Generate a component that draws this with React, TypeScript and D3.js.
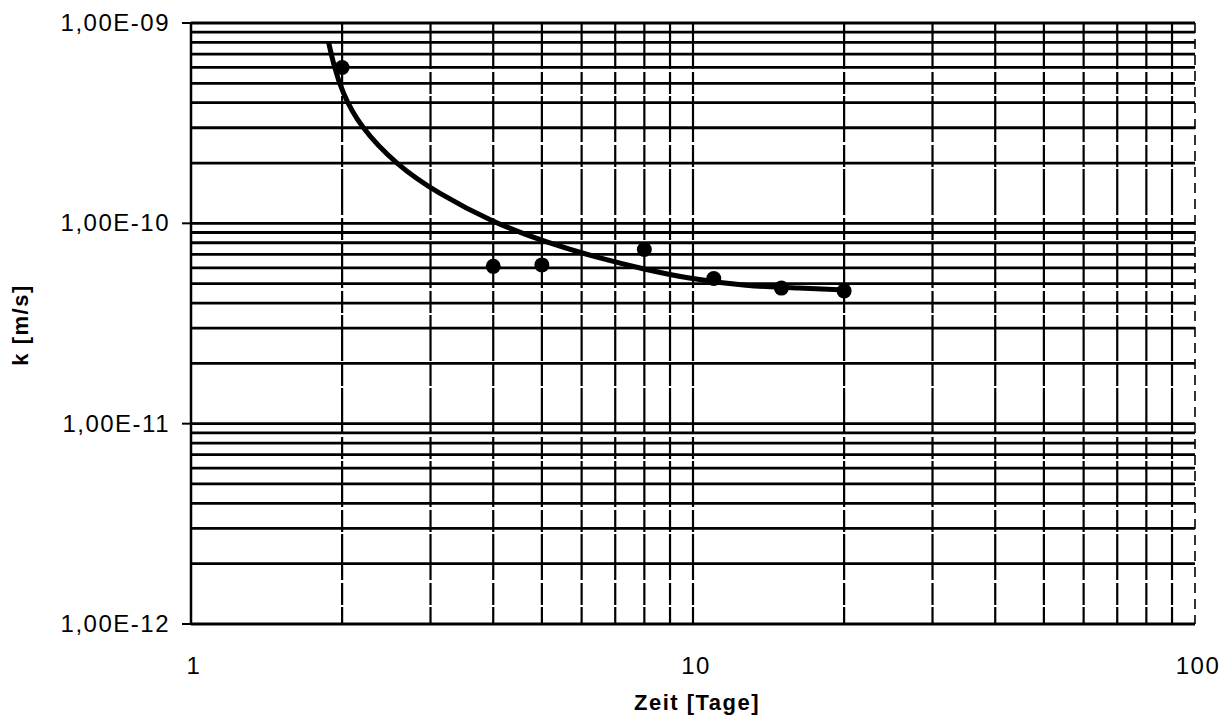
import React from "react";
import * as d3 from "d3";

// Measured data points (Zeit [Tage], k [m/s])
const pointDays = [2, 4, 5, 8, 11, 15, 20];
const pointK = [6.0e-10, 6.1e-11, 6.2e-11, 7.4e-11, 5.3e-11, 4.75e-11, 4.6e-11];

// Fitted curve
const curveDays = [1.88, 1.92, 2.0, 2.17, 2.57, 3.09, 4.0, 5.12, 6.5, 8.0, 9.8, 12.8, 16.3, 20.3];
const curveK = [8.0e-10, 6.3e-10, 4.5e-10, 3.04e-10, 1.95e-10, 1.42e-10, 1.01e-10, 8.0e-11, 6.7e-11, 5.9e-11, 5.3e-11, 4.86e-11, 4.75e-11, 4.64e-11];

const xTickValues = [1, 10, 100];
const xTickLabels = ["1", "10", "100"];
const yTickValues = [1e-9, 1e-10, 1e-11, 1e-12];
const yTickLabels = ["1,00E-09", "1,00E-10", "1,00E-11", "1,00E-12"];

const xTitle = "Zeit [Tage]";
const yTitle = "k [m/s]";

const W = 1230;
const H = 725;
const L = 191;
const R = 1195;
const T = 23;
const B = 624;

export default function App() {
  const x = d3.scaleLog().domain([1, 100]).range([L, R]);
  const y = d3.scaleLog().domain([1e-12, 1e-9]).range([B, T]);

  const xGrid: number[] = [];
  for (let d = 1; d <= 10; d *= 10) for (let m = 1; m <= 9; m++) xGrid.push(m * d);
  xGrid.push(100);
  const yGrid: number[] = [];
  for (let e = -12; e < -9; e++) for (let m = 1; m <= 9; m++) yGrid.push(m * Math.pow(10, e));
  yGrid.push(1e-9);

  const line = d3
    .line<number>()
    .x((_, i) => x(curveDays[i]))
    .y((_, i) => y(curveK[i]))
    .curve(d3.curveBasis);

  const font = "'Liberation Sans', Arial, Helvetica, sans-serif";

  return (
    <svg
      width={W}
      height={H}
      style={{ position: "absolute", left: 0, top: 0, background: "#fff" }}
    >
      <rect x={0} y={0} width={W} height={H} fill="#fff" />
      {/* vertical grid lines */}
      {xGrid.map((v, i) => (
        <line
          key={"vx" + i}
          x1={x(v)}
          x2={x(v)}
          y1={T}
          y2={B}
          stroke="#000"
          strokeWidth={v === 1 ? 2.5 : v === 100 ? 1.6 : 2.2}
          strokeDasharray={v === 1 ? undefined : v === 100 ? "10 6" : "46 3 22 2"}
        />
      ))}
      {/* horizontal grid lines */}
      {yGrid.map((v, i) => (
        <line
          key={"hy" + i}
          x1={L}
          x2={R}
          y1={y(v)}
          y2={y(v)}
          stroke="#000"
          strokeWidth={2.8}
        />
      ))}
      {/* y major ticks */}
      {yTickValues.map((v, i) => (
        <line key={"yt" + i} x1={L - 9} x2={L} y1={y(v)} y2={y(v)} stroke="#000" strokeWidth={2} />
      ))}
      {/* y tick labels */}
      {yTickValues.map((v, i) => (
        <text
          key={"yl" + i}
          x={170}
          y={y(v) + 8}
          textAnchor="end"
          fontFamily={font}
          fontSize={24}
          letterSpacing={1.5}
          fill="#000"
        >
          {yTickLabels[i]}
        </text>
      ))}
      {/* x tick labels */}
      {xTickValues.map((v, i) => (
        <text
          key={"xl" + i}
          x={x(v) + 3}
          y={674}
          textAnchor="middle"
          fontFamily={font}
          fontSize={24}
          letterSpacing={1.5}
          fill="#000"
        >
          {xTickLabels[i]}
        </text>
      ))}
      {/* axis titles */}
      <text
        x={697}
        y={710}
        textAnchor="middle"
        fontFamily={font}
        fontSize={22}
        fontWeight="bold"
        letterSpacing={1.5}
        fill="#000"
      >
        {xTitle}
      </text>
      <text
        transform={`translate(28, 325) rotate(-90)`}
        textAnchor="middle"
        fontFamily={font}
        fontSize={22}
        fontWeight="bold"
        letterSpacing={1.5}
        fill="#000"
      >
        {yTitle}
      </text>
      {/* fitted curve */}
      <path d={line(curveDays) || ""} fill="none" stroke="#000" strokeWidth={5} strokeLinecap="butt" />
      {/* data points */}
      {pointDays.map((d, i) => (
        <circle key={"p" + i} cx={x(d)} cy={y(pointK[i])} r={7.5} fill="#000" />
      ))}
    </svg>
  );
}
